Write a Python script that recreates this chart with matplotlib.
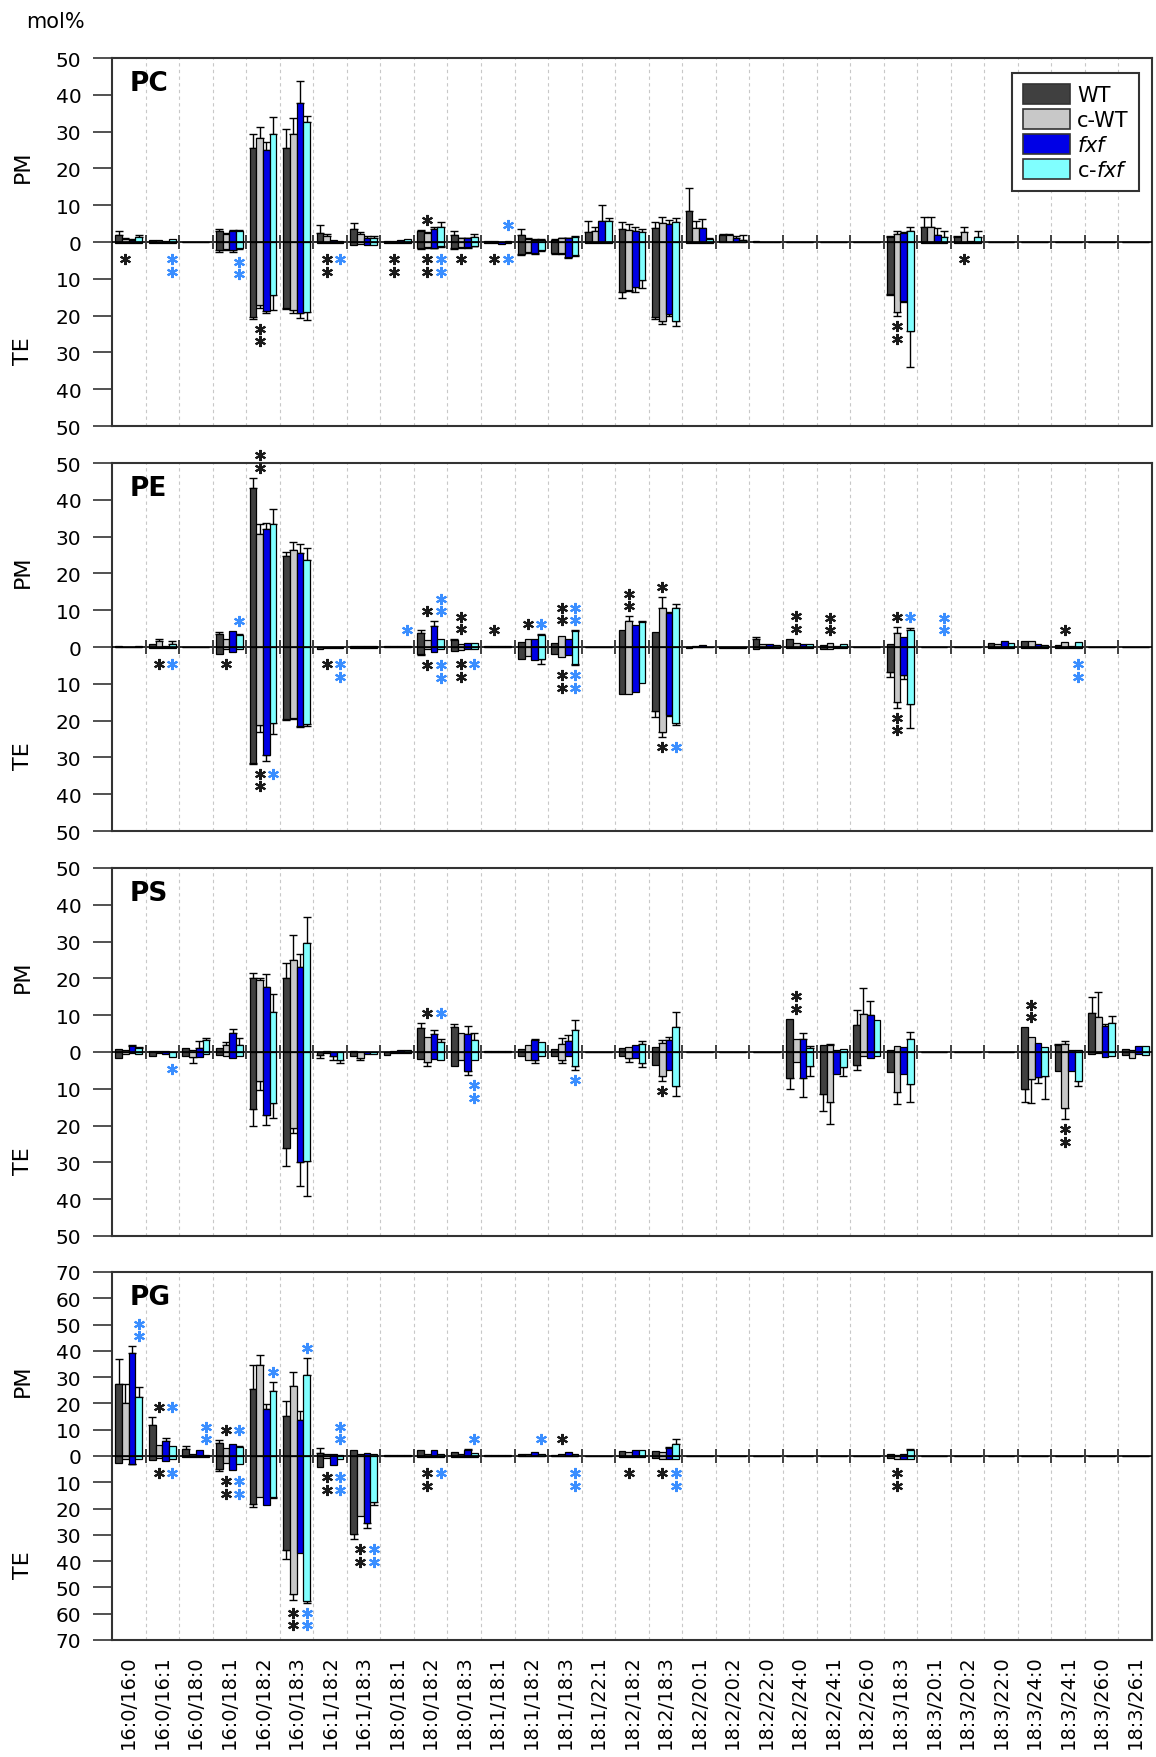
import numpy as np
import matplotlib.pyplot as plt
from matplotlib.patches import Patch
from matplotlib.transforms import offset_copy

# Categories (molecular species)
categories = ["16:0/16:0", "16:0/16:1", "16:0/18:0", "16:0/18:1", "16:0/18:2", "16:0/18:3",
              "16:1/18:2", "16:1/18:3", "18:0/18:1", "18:0/18:2", "18:0/18:3", "18:1/18:1",
              "18:1/18:2", "18:1/18:3", "18:1/22:1", "18:2/18:2", "18:2/18:3", "18:2/20:1",
              "18:2/20:2", "18:2/22:0", "18:2/24:0", "18:2/24:1", "18:2/26:0", "18:3/18:3",
              "18:3/20:1", "18:3/20:2", "18:3/22:0", "18:3/24:0", "18:3/24:1", "18:3/26:0",
              "18:3/26:1"]
genotypes = ["WT", "c-WT", r"$\it{fxf}$", r"c-$\it{fxf}$"]
colors = ["#404040", "#c8c8c8", "#0000e6", "#80ffff"]

# one row per category : WT, c-WT, fxf, c-fxf
PC_PM = [[2.0, 0.8, 0.5, 1.3], [0.6, 0.6, 0.4, 0.7], [0, 0, 0, 0], [3.1, 2.2, 2.9, 2.9],
         [25.5, 28.2, 24.9, 29.4], [25.5, 29.4, 37.7, 32.7], [2.4, 1.5, 0.5, 0.4], [3.5, 2.2, 1.2, 1.0],
         [0.4, 0.3, 0.5, 0.7], [2.9, 2.4, 3.5, 4.0], [2.0, 1.0, 1.0, 1.4], [0.2, 0.2, 0.1, 0.4],
         [1.9, 0.8, 0.6, 0.6], [0.6, 1.0, 1.0, 1.3], [2.6, 3.1, 5.6, 5.6], [3.5, 3.3, 3.1, 2.6],
         [3.7, 5.1, 4.8, 5.5], [8.5, 3.8, 3.7, 0.8], [1.9, 2.0, 1.1, 0.5], [0.2, 0.1, 0, 0],
         [0, 0, 0, 0], [0, 0, 0, 0], [0, 0, 0, 0], [1.3, 2.3, 2.4, 3.1],
         [4.1, 4.1, 2.0, 1.3], [1.3, 2.6, 0.4, 1.3], [0.1, 0, 0, 0], [0, 0, 0, 0],
         [0, 0, 0, 0], [0, 0, 0, 0], [0, 0, 0, 0]]
PC_PM_ERR = [[1.0, 0.2, 0.2, 0.6], [0, 0, 0, 0], [0, 0, 0, 0], [0.3, 0.2, 0.3, 0.3],
             [3.9, 3.0, 2.4, 4.5], [5.2, 4.3, 6.1, 1.6], [2.2, 0.6, 0, 0], [1.6, 0.6, 0.4, 0.5],
             [0, 0, 0, 0], [0.3, 0.2, 0.6, 1.3], [0.9, 0.2, 0.2, 0.7], [0, 0, 0, 0],
             [1.6, 0.2, 0.1, 0.1], [0.2, 0.2, 0.2, 0.3], [3.0, 1.1, 4.5, 0.9], [1.8, 1.7, 1.1, 0.9],
             [1.8, 1.8, 1.3, 0.9], [6.1, 2.0, 2.5, 0.3], [0.3, 0.3, 0.5, 1.5], [0, 0, 0, 0],
             [0, 0, 0, 0], [0, 0, 0, 0], [0, 0, 0, 0], [0.3, 0.7, 0.3, 0.9],
             [2.7, 2.7, 1.8, 1.6], [0.3, 1.4, 0, 1.8], [0, 0, 0, 0], [0, 0, 0, 0],
             [0, 0, 0, 0], [0, 0, 0, 0], [0, 0, 0, 0]]
PC_TE = [[0.3, 0.2, 0.2, 0.2], [0.2, 0.2, 0.2, 0.2], [0, 0, 0, 0], [2.3, 1.9, 2.3, 1.6],
         [20.4, 17.0, 18.8, 14.3], [17.9, 18.4, 19.3, 19.0], [0.3, 0.2, 0.3, 0.3], [0.7, 0.5, 0.8, 0.7],
         [0.2, 0.2, 0.2, 0.2], [1.7, 1.3, 1.5, 1.1], [1.7, 1.3, 1.4, 1.0], [0.4, 0.3, 0.5, 0.2],
         [3.2, 2.8, 3.0, 2.2], [3.0, 3.0, 4.1, 3.5], [0.2, 0.2, 0.2, 0.2], [13.6, 13.0, 12.3, 10.3],
         [20.5, 21.4, 19.7, 21.5], [0.2, 0.2, 0.2, 0.2], [0.1, 0.1, 0.1, 0.1], [0, 0, 0, 0],
         [0, 0, 0, 0], [0, 0, 0, 0], [0, 0, 0, 0], [14.1, 19.1, 16.1, 24.2],
         [0.2, 0.2, 0.2, 0.2], [0.2, 0.2, 0.2, 0.2], [0, 0, 0, 0], [0, 0, 0, 0],
         [0, 0, 0, 0], [0, 0, 0, 0], [0, 0, 0, 0]]
PC_TE_ERR = [[0, 0, 0, 0], [0, 0, 0, 0], [0, 0, 0, 0], [0.3, 0.3, 0.3, 0.3],
             [0.5, 1.0, 0.5, 4.1], [0.3, 0.9, 1.3, 2.2], [0, 0, 0, 0], [0, 0, 0, 0],
             [0, 0, 0, 0], [0.2, 0.2, 0.2, 0.2], [0.2, 0.2, 0.2, 0.2], [0, 0, 0, 0],
             [0.3, 0.3, 0.3, 0.3], [0.3, 0.3, 0.3, 0.3], [0, 0, 0, 0], [1.6, 0.3, 1.4, 2.2],
             [0.3, 0.9, 0.3, 1.4], [0, 0, 0, 0], [0, 0, 0, 0], [0, 0, 0, 0],
             [0, 0, 0, 0], [0, 0, 0, 0], [0, 0, 0, 0], [0.3, 1.1, 0.3, 9.9],
             [0, 0, 0, 0], [0, 0, 0, 0], [0, 0, 0, 0], [0, 0, 0, 0],
             [0, 0, 0, 0], [0, 0, 0, 0], [0, 0, 0, 0]]

PE_PM = [[0.2, 0.1, 0.1, 0.2], [0.9, 1.5, 0.3, 0.9], [0, 0, 0, 0], [3.6, 2.3, 4.3, 3.2],
         [43.1, 30.6, 32.2, 33.3], [24.8, 26.4, 25.5, 23.6], [0, 0, 0, 0.1], [0.2, 0.2, 0.3, 0.2],
         [0.3, 0.3, 0.3, 0.3], [3.9, 2.0, 5.7, 2.1], [1.8, 0.9, 1.2, 1.2], [0.2, 0.3, 0.3, 0.3],
         [1.4, 2.3, 2.3, 3.3], [1.1, 2.9, 2.3, 4.3], [0, 0, 0, 0], [4.5, 7.2, 6.0, 6.8],
         [4.1, 10.5, 9.2, 10.5], [0.1, 0.2, 0.6, 0.1], [0, 0, 0, 0], [2.3, 0.9, 0.9, 0.6],
         [2.3, 1.2, 0.9, 0.7], [0.5, 1.2, 0.2, 0.8], [0, 0, 0, 0], [0.9, 3.9, 2.7, 4.7],
         [0.1, 0.1, 0.1, 0.1], [0.1, 0.1, 0.1, 0.1], [1.2, 0.7, 1.5, 1.2], [1.5, 1.5, 0.9, 0.6],
         [0.5, 1.4, 0.2, 1.4], [0, 0, 0, 0], [0, 0, 0, 0]]
PE_PM_ERR = [[0, 0, 0, 0], [0, 0.7, 0, 0.6], [0, 0, 0, 0], [0.6, 0, 0, 0.3],
             [2.9, 2.7, 1.4, 4.2], [1.1, 2.2, 2.4, 3.2], [0, 0, 0, 0], [0, 0, 0, 0],
             [0, 0, 0, 0], [0.6, 0, 1.3, 0], [0.3, 0, 0, 0], [0, 0, 0, 0],
             [0, 0, 0, 0.3], [0, 0, 0, 0.3], [0, 0, 0, 0], [0, 1.2, 0, 0.3],
             [0, 3.0, 0.3, 1.2], [0, 0, 0, 0], [0, 0, 0, 0], [0.3, 0, 0, 0],
             [0, 0, 0, 0], [0, 0, 0, 0], [0, 0, 0, 0], [0, 1.4, 0, 0.5],
             [0, 0, 0, 0], [0, 0, 0, 0], [0, 0, 0, 0], [0, 0, 0, 0],
             [0, 0, 0, 0], [0, 0, 0, 0], [0, 0, 0, 0]]
PE_TE = [[0.1, 0.1, 0.1, 0.1], [0.2, 0.2, 0.2, 0.2], [0, 0, 0, 0], [1.8, 0.5, 1.4, 0.5],
         [31.4, 21.2, 29.3, 20.7], [19.6, 19.2, 21.4, 21.0], [0.5, 0.3, 0.2, 0.2], [0.3, 0.2, 0.2, 0.2],
         [0.1, 0.1, 0.1, 0.1], [1.8, 0.5, 1.4, 0.5], [1.1, 0.7, 0.5, 0.6], [0.1, 0.1, 0.1, 0.1],
         [3.3, 2.4, 3.6, 3.3], [1.8, 2.7, 2.3, 4.5], [0, 0, 0, 0], [12.8, 12.8, 12.3, 9.9],
         [17.4, 23.0, 18.5, 20.7], [0.3, 0.1, 0.1, 0.1], [0.2, 0.2, 0.2, 0.2], [0.5, 0.3, 0.3, 0.3],
         [0.3, 0.3, 0.3, 0.3], [0.5, 0.5, 0.2, 0.2], [0, 0, 0, 0], [6.9, 14.9, 7.7, 15.6],
         [0.1, 0.1, 0.1, 0.1], [0.1, 0.1, 0.1, 0.1], [0.3, 0.3, 0.3, 0.3], [0.3, 0.3, 0.3, 0.3],
         [0.2, 0.2, 0.2, 0.2], [0, 0, 0, 0], [0, 0, 0, 0]]
PE_TE_ERR = [[0, 0, 0, 0], [0, 0, 0, 0], [0, 0, 0, 0], [0, 0, 0, 0],
             [0.3, 1.8, 1.8, 3.0], [0.3, 0.3, 0.4, 0.4], [0, 0, 0, 0], [0, 0, 0, 0],
             [0, 0, 0, 0], [0.5, 0, 0, 0], [0, 0, 0, 0], [0, 0, 0, 0],
             [0, 0, 0, 1.2], [0, 0, 0, 0.5], [0, 0, 0, 0], [0, 0, 0, 0],
             [1.7, 1.4, 0.3, 0.6], [0, 0, 0, 0], [0, 0, 0, 0], [0, 0, 0, 0],
             [0, 0, 0, 0], [0, 0, 0, 0], [0, 0, 0, 0], [1.2, 1.6, 0.9, 6.5],
             [0, 0, 0, 0], [0, 0, 0, 0], [0, 0, 0, 0], [0, 0, 0, 0],
             [0, 0, 0, 0], [0, 0, 0, 0], [0, 0, 0, 0]]

PS_PM = [[0.8, 0.5, 1.5, 1.0], [0.2, 0.4, 0.2, 0], [1.1, 0.6, 1.1, 3.3], [1.1, 1.8, 5.1, 2.0],
         [20.2, 19.7, 17.7, 11.0], [20.0, 25.1, 23.2, 29.7], [0, 0.3, 0, 0], [0.4, 0, 0, 0],
         [0.1, 0.3, 0.6, 0.5], [6.5, 4.2, 5.0, 2.6], [6.8, 5.1, 4.9, 3.2], [0.3, 0.3, 0.3, 0.3],
         [0.8, 2.0, 3.2, 2.7], [0.8, 2.2, 3.1, 5.9], [0, 0, 0, 0], [1.1, 1.4, 2.0, 2.2],
         [1.4, 2.4, 3.3, 6.9], [0, 0, 0, 0], [0, 0, 0, 0], [0, 0, 0, 0],
         [9.0, 3.6, 3.6, 1.1], [2.0, 2.0, 0.5, 0.8], [7.4, 10.4, 10.1, 8.7], [0.6, 1.5, 1.4, 3.5],
         [0, 0, 0, 0], [0, 0, 0, 0], [0, 0, 0, 0], [6.7, 4.0, 2.4, 1.3],
         [2.0, 2.2, 0.6, 0.6], [10.5, 9.5, 7.1, 7.8], [0.9, 0.6, 1.5, 1.5]]
PS_PM_ERR = [[0, 0, 0.3, 0.3], [0, 0, 0, 0], [0, 0, 2.0, 0.6], [0, 0.9, 1.1, 1.8],
             [1.4, 0.3, 3.4, 4.7], [4.1, 6.8, 3.3, 7.1], [0, 0, 0, 0], [0, 0, 0, 0],
             [0, 0, 0, 0], [1.4, 0, 0.9, 0.9], [0.9, 0, 2.1, 2.0], [0, 0, 0, 0],
             [0, 0, 0.4, 0], [0, 1.6, 1.4, 2.7], [0, 0, 0, 0], [0, 0, 0, 0.7],
             [0, 0.9, 0.9, 4.1], [0, 0, 0, 0], [0, 0, 0, 0], [0, 0, 0, 0],
             [0, 0, 1.5, 0.6], [0, 0.3, 0, 0], [4.1, 6.9, 3.8, 0], [0, 0, 0, 1.8],
             [0, 0, 0, 0], [0, 0, 0, 0], [0, 0, 0, 0], [0, 0, 0, 0],
             [0.3, 0.7, 0, 0], [4.5, 6.9, 0.5, 2.0], [0, 0, 0, 0]]
PS_TE = [[1.6, 0.5, 0.3, 0.5], [1.0, 0.2, 0.5, 1.4], [1.2, 1.4, 1.4, 0.5], [0.9, 1.2, 1.6, 1.2],
         [15.6, 8.0, 17.2, 13.8], [26.2, 20.7, 29.8, 29.5], [0.9, 0.2, 1.2, 2.1], [1.2, 1.6, 0.5, 0.5],
         [0.7, 0.2, 0.2, 0.2], [1.9, 2.8, 1.9, 2.1], [3.7, 2.1, 5.2, 2.1], [0.1, 0.1, 0.1, 0.1],
         [1.2, 2.1, 2.1, 1.0], [1.2, 2.1, 1.2, 3.7], [0, 0, 0, 0], [1.2, 1.6, 1.6, 3.0],
         [3.4, 6.6, 5.0, 9.3], [0, 0, 0, 0], [0, 0, 0, 0], [0, 0, 0, 0],
         [7.0, 2.7, 7.0, 3.7], [11.3, 13.6, 5.9, 4.1], [3.4, 1.2, 1.6, 1.0], [5.5, 10.8, 5.9, 8.8],
         [0, 0, 0, 0], [0, 0, 0, 0], [0, 0, 0, 0], [10.0, 7.3, 6.8, 6.6],
         [5.2, 15.3, 5.2, 7.9], [0.5, 0.3, 1.4, 1.0], [0.7, 1.6, 0.5, 0.7]]
PS_TE_ERR = [[0, 0, 0, 0], [0, 0, 0, 0], [0, 1.6, 0, 0], [0, 0, 0, 0],
             [4.5, 2.2, 2.7, 4.1], [4.7, 1.4, 6.7, 9.5], [0.7, 0, 0.9, 0.9], [0, 0.6, 0, 0],
             [0, 0, 0, 0], [0, 1.1, 0, 0], [0, 0, 1.1, 0], [0, 0, 0, 0],
             [0, 0, 0.9, 0], [0, 0.9, 0, 1.3], [0, 0, 0, 0], [0, 1.2, 0, 1.1],
             [0, 1.4, 0, 2.7], [0, 0, 0, 0], [0, 0, 0, 0], [0, 0, 0, 0],
             [3.0, 0, 5.2, 2.9], [4.8, 5.9, 0, 2.5], [1.4, 0, 0, 0], [0, 3.4, 0, 4.8],
             [0, 0, 0, 0], [0, 0, 0, 0], [0, 0, 0, 0], [3.6, 6.5, 1.5, 6.1],
             [0, 3.0, 0, 1.4], [0, 0, 0, 0], [0, 0, 0, 0]]

PG_PM = [[27.5, 20.0, 39.2, 22.4], [11.9, 4.3, 5.7, 3.8], [2.8, 0.9, 2.2, 0.5], [4.9, 3.0, 4.4, 3.4],
         [25.6, 34.7, 18.0, 24.9], [15.4, 26.8, 13.8, 31.0], [1.1, 0.9, 0.6, 0.5], [2.4, 0.6, 1.3, 0.9],
         [0.3, 0.3, 0.3, 0.3], [2.2, 0.9, 2.4, 0.9], [1.5, 0.9, 2.2, 1.1], [0.5, 0.5, 0.3, 0.3],
         [0.6, 0.9, 1.5, 0.9], [0.3, 0.9, 1.4, 0.9], [0, 0, 0, 0], [1.9, 1.5, 2.2, 2.4],
         [1.9, 1.5, 3.0, 4.4], [0, 0, 0, 0], [0, 0, 0, 0], [0, 0, 0, 0],
         [0, 0, 0, 0], [0, 0, 0, 0], [0, 0, 0, 0], [0.6, 0.3, 0.9, 2.2],
         [0, 0, 0, 0], [0, 0, 0, 0], [0, 0, 0, 0], [0, 0, 0, 0],
         [0, 0, 0, 0], [0, 0, 0, 0], [0, 0, 0, 0]]
PG_PM_ERR = [[9.5, 7.5, 2.5, 4.0], [2.9, 0, 1.1, 0], [1.0, 0, 0, 0], [1.0, 0, 0, 0.3],
             [8.9, 3.9, 1.9, 3.4], [5.4, 5.1, 3.2, 6.3], [1.9, 0, 0, 0], [0, 0, 0, 0],
             [0, 0, 0, 0], [0, 0, 0, 0], [0, 0, 0.6, 0], [0, 0, 0, 0],
             [0, 0, 0, 0], [0, 0, 0, 0], [0, 0, 0, 0], [0, 0, 0, 0],
             [0, 0, 0.6, 2.2], [0, 0, 0, 0], [0, 0, 0, 0], [0, 0, 0, 0],
             [0, 0, 0, 0], [0, 0, 0, 0], [0, 0, 0, 0], [0, 0, 0, 0.4],
             [0, 0, 0, 0], [0, 0, 0, 0], [0, 0, 0, 0], [0, 0, 0, 0],
             [0, 0, 0, 0], [0, 0, 0, 0], [0, 0, 0, 0]]
PG_TE = [[2.7, 1.3, 2.9, 1.3], [1.4, 0.6, 2.0, 1.0], [0.2, 0.2, 0.2, 0.2], [4.8, 2.7, 5.4, 2.9],
         [18.1, 15.6, 18.7, 15.6], [35.8, 52.4, 37.0, 55.0], [4.2, 0.8, 3.5, 1.0], [29.5, 22.9, 25.4, 17.5],
         [0, 0, 0, 0], [0.2, 0.2, 0.2, 0.2], [0.2, 0.2, 0.2, 0.2], [0.1, 0.1, 0.1, 0.1],
         [0.1, 0.1, 0.1, 0.1], [0.1, 0.1, 0.1, 0.1], [0, 0, 0, 0], [0.5, 0.5, 0.5, 0.5],
         [0.6, 1.0, 1.0, 1.0], [0, 0, 0, 0], [0, 0, 0, 0], [0, 0, 0, 0],
         [0, 0, 0, 0], [0, 0, 0, 0], [0, 0, 0, 0], [0.6, 1.3, 1.0, 1.0],
         [0, 0, 0, 0], [0, 0, 0, 0], [0, 0, 0, 0], [0, 0, 0, 0],
         [0, 0, 0, 0], [0, 0, 0, 0], [0, 0, 0, 0]]
PG_TE_ERR = [[0, 0, 0.3, 0], [0, 0, 0, 0], [0, 0, 0, 0], [1.0, 0, 0, 0],
             [1.3, 0, 0, 0.4], [3.4, 2.5, 0, 0.8], [0, 0, 0, 0], [2.2, 0, 1.9, 1.3],
             [0, 0, 0, 0], [0, 0, 0, 0], [0, 0, 0, 0], [0, 0, 0, 0],
             [0, 0, 0, 0], [0, 0, 0, 0], [0, 0, 0, 0], [0, 0, 0, 0],
             [0, 0, 0, 0], [0, 0, 0, 0], [0, 0, 0, 0], [0, 0, 0, 0],
             [0, 0, 0, 0], [0, 0, 0, 0], [0, 0, 0, 0], [0, 0, 0, 0],
             [0, 0, 0, 0], [0, 0, 0, 0], [0, 0, 0, 0], [0, 0, 0, 0],
             [0, 0, 0, 0], [0, 0, 0, 0], [0, 0, 0, 0]]

# significance marks: (category, "k" = c-WT vs WT / "b" = c-fxf vs fxf, number of stars)
PC_PM_STARS = [(9, "k", 1), (11, "b", 1)]
PC_TE_STARS = [(0, "k", 1), (1, "b", 2), (3, "b", 2), (4, "k", 2), (6, "k", 2), (6, "b", 1),
               (8, "k", 2), (9, "k", 2), (9, "b", 2), (10, "k", 1), (11, "k", 1), (11, "b", 1),
               (23, "k", 2), (25, "k", 1)]
PE_PM_STARS = [(3, "b", 1), (4, "k", 2), (8, "b", 1), (9, "k", 1), (9, "b", 2), (10, "k", 2),
               (11, "k", 1), (12, "k", 1), (12, "b", 1), (13, "k", 2), (13, "b", 2), (15, "k", 2),
               (16, "k", 1), (20, "k", 2), (21, "k", 2), (23, "k", 1), (23, "b", 1), (24, "b", 2),
               (28, "k", 1)]
PE_TE_STARS = [(1, "k", 1), (1, "b", 1), (3, "k", 1), (4, "k", 2), (4, "b", 1), (6, "k", 1),
               (6, "b", 2), (9, "k", 1), (9, "b", 2), (10, "k", 2), (10, "b", 1), (13, "k", 2),
               (13, "b", 2), (16, "k", 1), (16, "b", 1), (23, "k", 2), (28, "b", 2)]
PS_PM_STARS = [(9, "k", 1), (9, "b", 1), (20, "k", 2), (27, "k", 2)]
PS_TE_STARS = [(1, "b", 1), (10, "b", 2), (13, "b", 1), (16, "k", 1), (28, "k", 2)]
PG_PM_STARS = [(0, "b", 2), (1, "k", 1), (1, "b", 1), (2, "b", 2), (3, "k", 1), (3, "b", 1),
               (4, "b", 1), (5, "b", 1), (6, "b", 2), (10, "b", 1), (12, "b", 1), (13, "k", 1)]
PG_TE_STARS = [(1, "k", 1), (1, "b", 1), (3, "k", 2), (3, "b", 2), (5, "k", 2), (5, "b", 2),
               (6, "k", 2), (6, "b", 2), (7, "k", 2), (7, "b", 2), (9, "k", 2), (9, "b", 1),
               (13, "b", 2), (15, "k", 1), (16, "k", 1), (16, "b", 2), (23, "k", 2)]

DPI = 100
fig = plt.figure(figsize=(11.56, 17.58), dpi=DPI)
W, H = 1156, 1758
star_colors = {"k": "#1a1a1a", "b": "#3a8eff"}
n = len(categories)


def draw_stars(ax, ext, stars, sign, ppu):
    # one row of stars per category, just outside the longest of the flagged bars
    rows = {}
    for cat, grp, cnt in stars:
        b = 1 if grp == "k" else 3
        e = max(ext[b, cat], ext[b - 1, cat])
        rows[cat] = max(rows.get(cat, 0), e)
    for cat, grp, cnt in stars:
        b = 1 if grp == "k" else 3
        base = max(rows[cat] * ppu + 10, 17)
        for i in range(cnt):
            off = (base + 12.5 * i) * 72 / DPI
            tr = offset_copy(ax.transData, fig=fig, x=0, y=sign * off, units="points")
            ax.plot(cat + 0.2 + 0.2 * b, 0, ls="none", marker=(6, 2, 0), ms=8, mew=1.5,
                    color=star_colors[grp], transform=tr, zorder=5, clip_on=False)


def draw_panel(top_px, name, pm, pm_err, te, te_err, pm_stars, te_stars, lim, last=False):
    ax = fig.add_axes([112 / W, 1 - (top_px + 368) / H, 1040 / W, 368 / H])
    pm = np.array(pm).T
    pm_err = np.array(pm_err).T
    te = np.array(te).T
    te_err = np.array(te_err).T
    xs = np.arange(n)
    for g in range(4):
        x = xs + 0.2 + 0.2 * g
        ax.bar(x, pm[g], width=0.2, color=colors[g], edgecolor="black", linewidth=0.9, zorder=2)
        ax.bar(x, -te[g], width=0.2, color=colors[g], edgecolor="black", linewidth=0.9, zorder=2)
        m = pm_err[g] > 0
        ax.errorbar(x[m], pm[g][m], yerr=[np.zeros(m.sum()), pm_err[g][m]], fmt="none",
                    ecolor="black", elinewidth=1, capsize=3, capthick=1, zorder=1.9)
        m = te_err[g] > 0
        ax.errorbar(x[m], -te[g][m], yerr=[te_err[g][m], np.zeros(m.sum())], fmt="none",
                    ecolor="black", elinewidth=1, capsize=3, capthick=1, zorder=1.9)

    ax.axhline(0, color="black", lw=1.2, zorder=3)
    ax.plot(np.arange(1, n), np.zeros(n - 1), ls="none", marker="|", ms=10, mew=1.4,
            color="#404040", zorder=3)

    ax.set_xlim(0, n)
    ax.set_ylim(-lim, lim)
    yt = np.arange(-lim, lim + 1, 10)
    ax.set_yticks(yt)
    ax.set_yticklabels([str(abs(v)) for v in yt])
    ax.tick_params(axis="y", direction="out", length=14, width=1.2, pad=8,
                   labelsize=14.5, color="#333333")
    ax.set_xticks(np.arange(1, n), minor=True)
    ax.grid(axis="x", which="minor", color="#c8c8c8", ls=(0, (3, 3)), lw=0.8)
    ax.set_xticks(xs + 0.5)
    if last:
        ax.set_xticklabels(categories, rotation=90, fontsize=14)
        ax.tick_params(axis="x", which="major", length=0, pad=10)
    else:
        ax.set_xticklabels([])
        ax.tick_params(axis="x", which="major", length=0)
    ax.tick_params(axis="x", which="minor", length=0)
    for s in ax.spines.values():
        s.set_color("#333333")
        s.set_linewidth(1.5)

    ax.text(0.017, 0.932, name, transform=ax.transAxes, fontsize=19, fontweight="bold",
            ha="left", va="center")
    ax.text(-0.086, 0.707, "PM", transform=ax.transAxes, rotation=90, fontsize=16,
            ha="center", va="center")
    ax.text(-0.086, 0.205, "TE", transform=ax.transAxes, rotation=90, fontsize=16,
            ha="center", va="center")

    ppu = ax.transData.transform((0, 1))[1] - ax.transData.transform((0, 0))[1]
    draw_stars(ax, pm + pm_err, pm_stars, 1, ppu)
    draw_stars(ax, te + te_err, te_stars, -1, ppu)
    return ax


ax1 = draw_panel(59, "PC", PC_PM, PC_PM_ERR, PC_TE, PC_TE_ERR, PC_PM_STARS, PC_TE_STARS, 50)
draw_panel(464, "PE", PE_PM, PE_PM_ERR, PE_TE, PE_TE_ERR, PE_PM_STARS, PE_TE_STARS, 50)
draw_panel(869, "PS", PS_PM, PS_PM_ERR, PS_TE, PS_TE_ERR, PS_PM_STARS, PS_TE_STARS, 50)
draw_panel(1273, "PG", PG_PM, PG_PM_ERR, PG_TE, PG_TE_ERR, PG_PM_STARS, PG_TE_STARS, 70, last=True)

handles = [Patch(facecolor=c, edgecolor="#333333", linewidth=1.2) for c in colors]
leg = ax1.legend(handles, genotypes, loc="upper right", bbox_to_anchor=(0.9875, 0.959),
                 borderaxespad=0, fontsize=15, handlelength=2.25, handleheight=1.1,
                 labelspacing=0.2, handletextpad=0.35, borderpad=0.5, fancybox=False,
                 framealpha=1, edgecolor="#333333")
leg.get_frame().set_linewidth(1.5)
leg.set_zorder(10)

fig.text(26 / W, 1 - 22 / H, "mol%", fontsize=15, ha="left", va="center")

fig.savefig("out.png", dpi=DPI)
